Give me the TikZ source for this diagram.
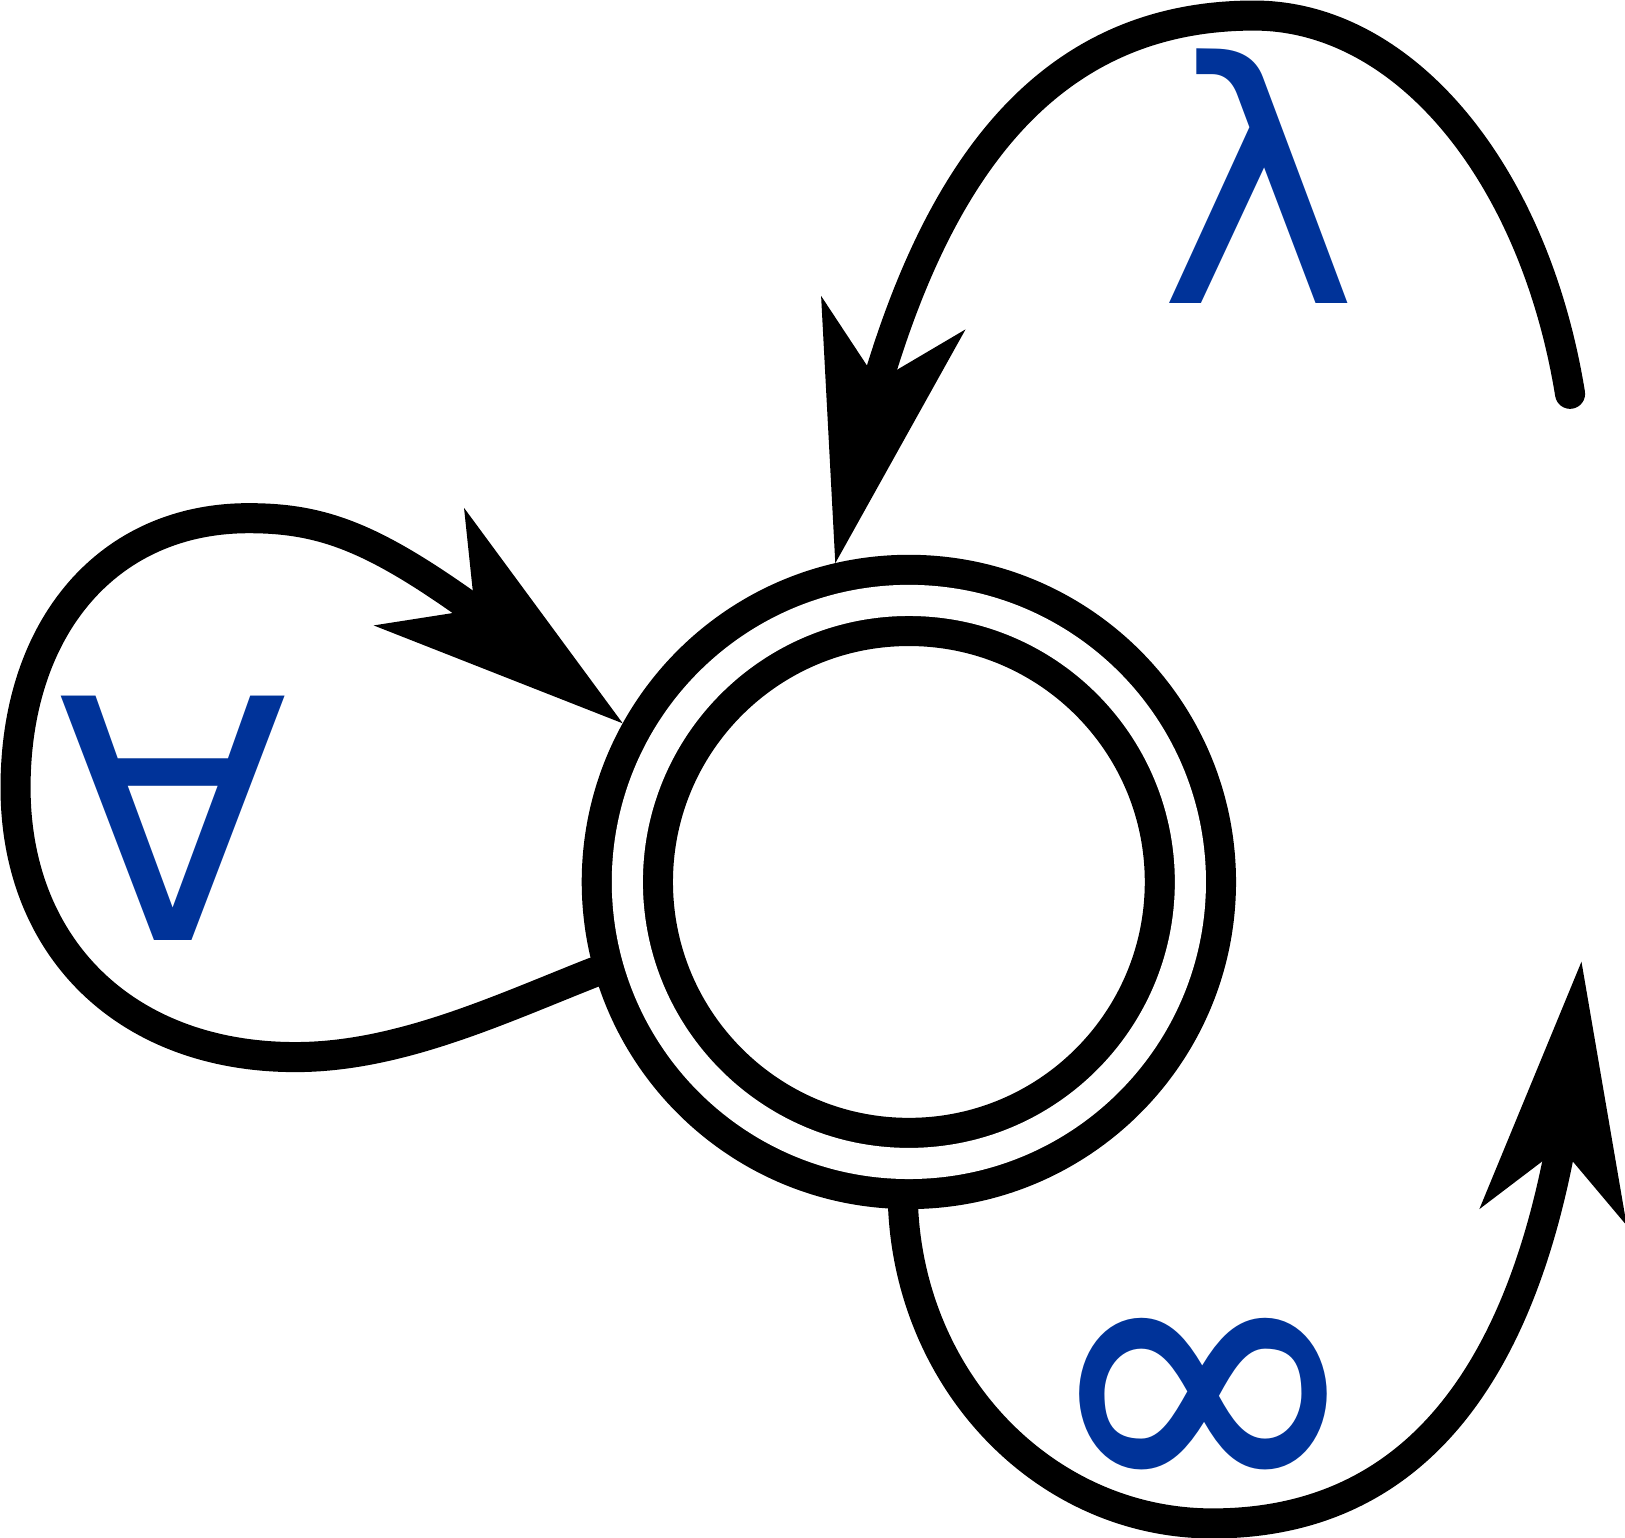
\documentclass[tikz,border=0pt]{standalone}
\usepackage{fontspec}
\setmainfont{DejaVu Sans}
\newfontfamily\symfont{TeX Gyre Heros}
\usetikzlibrary{arrows.meta, bending}
\definecolor{stateink}{HTML}{000000}
\definecolor{symblue}{HTML}{003399}

\begin{document}
\begin{tikzpicture}[
  x=0.01cm,
  y=-0.01cm,
  every node/.style={font=\fontsize{92}{92}\selectfont},
  accept/.style={circle, draw=stateink, line width=0.29cm, double,
    double distance=0.30cm, minimum size=5.43cm, inner sep=0pt,
    outer sep=0.44cm},
  loopedge/.style={draw=stateink, line width=0.29cm, line cap=round},
  bigtip/.style={-{Stealth[length=2.48cm, width=1.43cm, inset=0.68cm,
    line width=0pt, flex]}},
  sym/.style={text=symblue, inner sep=0pt}
]
  \useasboundingbox (0,0) rectangle (1568,1484);

  \node[accept] (q) at (877,851) {};

  % loop on the left
  \draw[loopedge, bigtip]
    (q.196) .. controls (482,974) and (385,1020) .. (285,1020)
    .. controls (123,1020) and (15,916) .. (15,760)
    .. controls (15,604) and (105,500) .. (240,500)
    .. controls (340,500) and (396,537) .. (q.151);

  % loop over the top, open end on the right
  \coordinate (lamfree) at (1515,380);
  \draw[loopedge, bigtip]
    (lamfree) .. controls (1480,165) and (1354,15) .. (1210,15)
    .. controls (960,15) and (860,250) .. (q.103);

  % loop under the state, open arrow on the right
  \coordinate (inftip) at (1526,928);
  \draw[loopedge, bigtip]
    (q.269) .. controls (880,1336) and (1010,1470) .. (1170,1470)
    .. controls (1420,1470) and (1510,1230) .. (inftip);

  \node[sym] (forall) at (167,790) {∀};
  \node[sym] (lambda) at (1215,170) {λ};
  \node[sym, font=\symfont\fontsize{102}{102}\selectfont] (infty)
    at (1161,1356) {∞};
\end{tikzpicture}
\end{document}
